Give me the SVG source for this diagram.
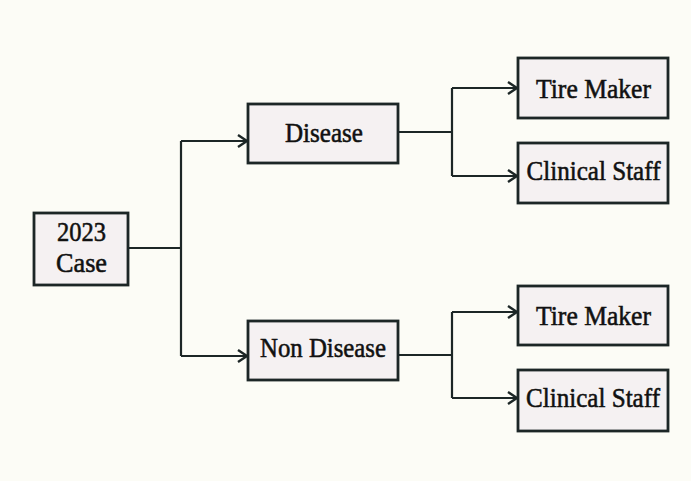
<svg xmlns="http://www.w3.org/2000/svg" width="691" height="481" viewBox="0 0 691 481">
<defs>
<style>
.box{fill:#f5f1f2;stroke:#1c2626;stroke-width:2.8}
.lbl{font-family:"Liberation Serif","Times New Roman",serif;font-size:27px;fill:#111111;stroke:#111111;stroke-width:0.55;text-anchor:middle}
.ln{fill:none;stroke:#1c2626;stroke-width:2.2}
</style>
<marker id="arr" viewBox="0 0 12 14" refX="11" refY="7" markerWidth="12" markerHeight="14" markerUnits="userSpaceOnUse" orient="auto">
<path d="M2,1 L11,7 L2,13" fill="none" stroke="#1c2626" stroke-width="2.4"/>
</marker>
</defs>
<rect x="0" y="0" width="691" height="481" fill="#fcfcf6"/>
<g id="connectors">
<path class="ln" d="M128,248 H181"/>
<path class="ln" d="M181,141 V356"/>
<path class="ln" d="M181,141 H247" marker-end="url(#arr)"/>
<path class="ln" d="M181,356 H247" marker-end="url(#arr)"/>
<path class="ln" d="M398,132 H452"/>
<path class="ln" d="M452,88 V176"/>
<path class="ln" d="M452,88 H517" marker-end="url(#arr)"/>
<path class="ln" d="M452,176 H517" marker-end="url(#arr)" stroke-width="3"/>
<path class="ln" d="M398,355 H452" stroke-width="3.2"/>
<path class="ln" d="M452,312 V398"/>
<path class="ln" d="M452,312 H517" marker-end="url(#arr)"/>
<path class="ln" d="M452,398 H517" marker-end="url(#arr)"/>
</g>
<g id="case">
<rect class="box" x="34" y="213" width="94" height="72"/>
<text class="lbl" x="81.5" y="241" textLength="49" lengthAdjust="spacingAndGlyphs">2023</text>
<text class="lbl" x="81.5" y="272" textLength="51" lengthAdjust="spacingAndGlyphs">Case</text>
</g>
<g id="disease">
<rect class="box" x="248" y="104" width="150" height="59"/>
<text class="lbl" x="324" y="142" textLength="78" lengthAdjust="spacingAndGlyphs">Disease</text>
</g>
<g id="nondisease">
<rect class="box" x="248" y="321" width="150" height="59"/>
<text class="lbl" x="323" y="357" textLength="126" lengthAdjust="spacingAndGlyphs">Non Disease</text>
</g>
<g id="tire1">
<rect class="box" x="518" y="58" width="150" height="60"/>
<text class="lbl" x="593.5" y="98" textLength="115" lengthAdjust="spacingAndGlyphs">Tire Maker</text>
</g>
<g id="clinical1">
<rect class="box" x="518" y="143" width="150" height="60"/>
<text class="lbl" x="593.5" y="180" textLength="134" lengthAdjust="spacingAndGlyphs">Clinical Staff</text>
</g>
<g id="tire2">
<rect class="box" x="518" y="286" width="150" height="59"/>
<text class="lbl" x="593.5" y="325" textLength="115" lengthAdjust="spacingAndGlyphs">Tire Maker</text>
</g>
<g id="clinical2">
<rect class="box" x="518" y="370" width="150" height="61"/>
<text class="lbl" x="593" y="407" textLength="134" lengthAdjust="spacingAndGlyphs">Clinical Staff</text>
</g>
</svg>
